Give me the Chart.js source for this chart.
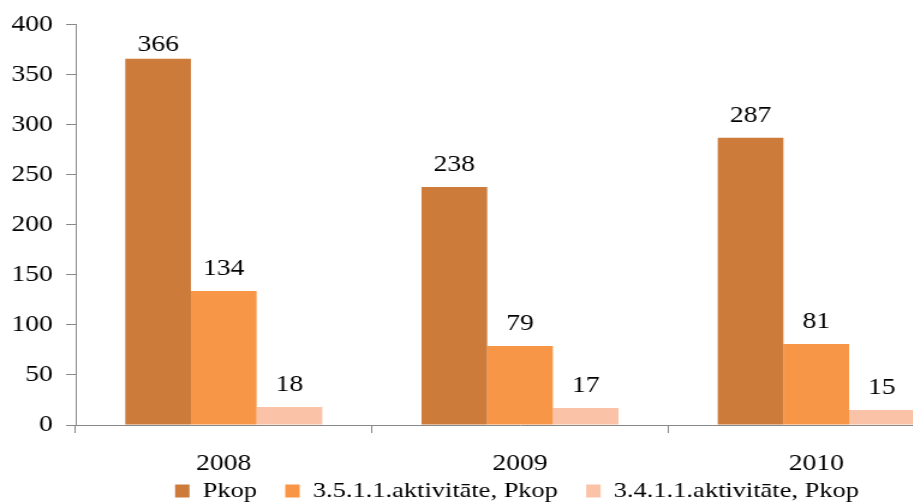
<!DOCTYPE html>
<html>
<head>
<meta charset="utf-8">
<script src="https://cdn.jsdelivr.net/npm/chart.js@4"></script>
<style>
  html, body { margin: 0; padding: 0; overflow: hidden; background: #fff; }
  #wrap { width: 1034px; height: 502px; }
  /* the original picture is stretched sideways, so the canvas is too */
  #chart { width: 1034px; height: 502px; display: block; }
</style>
</head>
<body>
<div id="wrap"><canvas id="chart" width="861" height="502" style="width:1034px;height:502px"></canvas></div>
<script>
// ============================================================
// Data
// ============================================================

const years = ['2008', '2009', '2010'];
const seriesNames = ['Pkop', '3.5.1.1.aktivitāte, Pkop', '3.4.1.1.aktivitāte, Pkop'];
const pkop = [366, 238, 287];
const akt3511 = [134, 79, 81];
const akt3411 = [18, 17, 15];
const yTicks = [0, 50, 100, 150, 200, 250, 300, 350, 400];

const colors = ['#CC7B3A', '#F79646', '#FAC2A6'];
const serif = "'Liberation Serif', 'DejaVu Serif', serif";
const gap = '\u00A0\u00A0\u00A0';

// draws the value above each bar
const valueLabels = {
  id: 'valueLabels',
  afterDatasetsDraw(chart) {
    const ctx = chart.ctx;
    ctx.save();
    ctx.font = `23px ${serif}`;
    ctx.fillStyle = '#000';
    ctx.textAlign = 'center';
    ctx.textBaseline = 'middle';
    chart.data.datasets.forEach((ds, i) => {
      chart.getDatasetMeta(i).data.forEach((bar, j) => {
        const y = Math.max(bar.y - 22, chart.chartArea.top + 20);
        ctx.fillText(String(ds.data[j]), bar.x, y);
      });
    });
    ctx.restore();
  }
};

// keep the legend box short and centred on the whole canvas
const legendBox = {
  id: 'legendBox',
  beforeLayout(chart) {
    const lg = chart.legend;
    if (lg && !lg._short) {
      const fit = lg.fit;
      lg.fit = function () { fit.call(this); this.height = 29; };
      lg._short = true;
    }
  },
  beforeDraw(chart) {
    const lg = chart.legend;
    if (!lg) return;
    lg.left = 0;
    lg.right = chart.width;
    lg.width = chart.width;
  }
};

const ctx = document.getElementById('chart').getContext('2d');
new Chart(ctx, {
  type: 'bar',
  data: {
    labels: years,
    datasets: [pkop, akt3511, akt3411].map((d, i) => ({
      label: seriesNames[i],
      data: d,
      backgroundColor: colors[i],
      borderWidth: 0,
      categoryPercentage: 0.665,
      barPercentage: 1
    }))
  },
  options: {
    responsive: false,
    animation: false,
    layout: { padding: { top: 15, right: 58, left: 0, bottom: 0 } },
    plugins: {
      legend: {
        position: 'bottom',
        labels: {
          boxWidth: 12,
          boxHeight: 13,
          padding: 7,
          color: '#000',
          font: { family: serif, size: 22 },
          generateLabels: chart => {
            const items = Chart.defaults.plugins.legend.labels.generateLabels(chart);
            items.forEach((it, i) => { if (i < items.length - 1) it.text += gap; });
            return items;
          }
        }
      },
      tooltip: { enabled: false }
    },
    scales: {
      x: {
        grid: { drawOnChartArea: false, tickLength: 8, color: '#888', offset: true },
        border: { color: '#888' },
        ticks: { color: '#000', font: { family: serif, size: 23, lineHeight: 1 }, padding: 19 },
        afterFit: s => { s.height = 48; }
      },
      y: {
        min: 0,
        max: 400,
        afterBuildTicks: s => { s.ticks = yTicks.map(v => ({ value: v })); },
        grid: { drawOnChartArea: false, tickLength: 8, color: '#888' },
        border: { color: '#888' },
        ticks: { color: '#000', font: { family: serif, size: 23 }, padding: 11 },
        afterFit: s => { s.width = 63; }
      }
    }
  },
  plugins: [valueLabels, legendBox]
});
</script>
</body>
</html>
